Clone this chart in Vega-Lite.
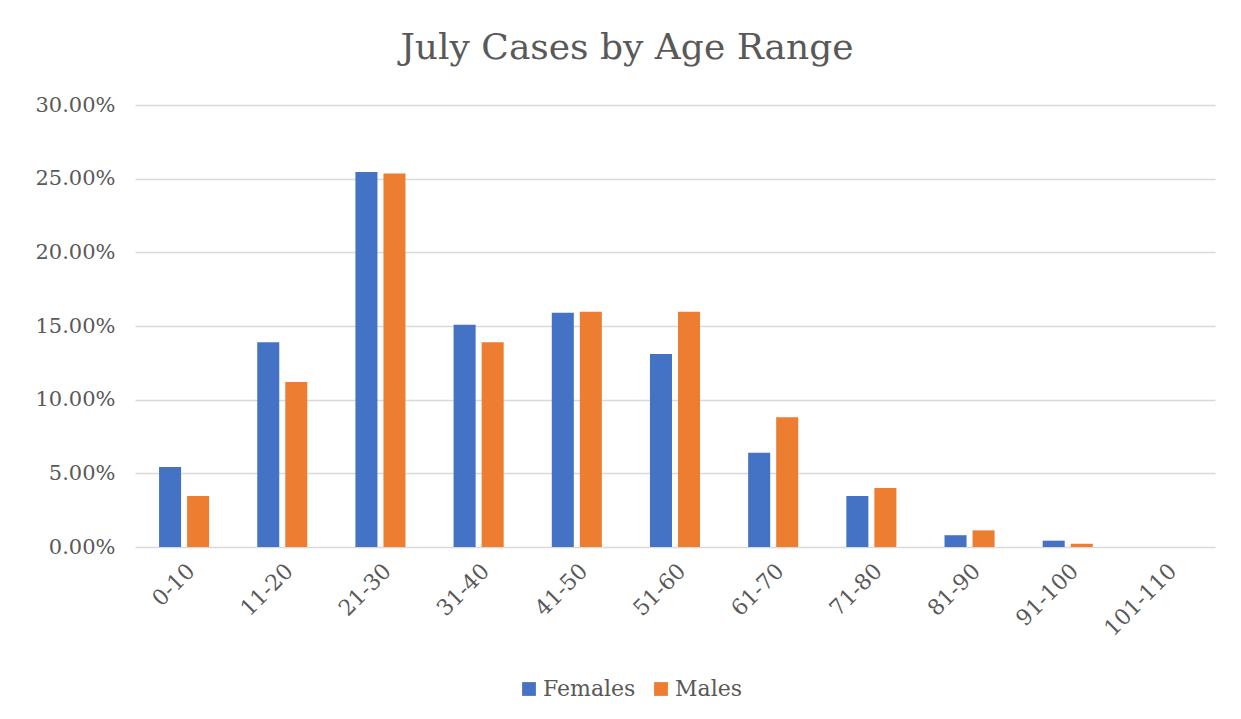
{
  "$schema": "https://vega.github.io/schema/vega-lite/v6.json",
  "width": 1080,
  "height": 442,
  "autosize": {"type": "none"},
  "padding": {"left": 135, "top": 105, "right": 26, "bottom": 172},
  "background": "white",
  "title": {
    "text": "July Cases by Age Range",
    "font": "DejaVu Serif",
    "fontSize": 36,
    "fontWeight": "normal",
    "color": "#595959",
    "anchor": "middle",
    "dx": -48,
    "offset": 27
  },
  "data": {
    "values": [
      {"age": "0-10", "sex": "Females", "pct": 0.0543},
      {"age": "0-10", "sex": "Males", "pct": 0.0346},
      {"age": "11-20", "sex": "Females", "pct": 0.139},
      {"age": "11-20", "sex": "Males", "pct": 0.112},
      {"age": "21-30", "sex": "Females", "pct": 0.2546},
      {"age": "21-30", "sex": "Males", "pct": 0.2535},
      {"age": "31-40", "sex": "Females", "pct": 0.1508},
      {"age": "31-40", "sex": "Males", "pct": 0.139},
      {"age": "41-50", "sex": "Females", "pct": 0.159},
      {"age": "41-50", "sex": "Males", "pct": 0.1597},
      {"age": "51-60", "sex": "Females", "pct": 0.131},
      {"age": "51-60", "sex": "Males", "pct": 0.1597},
      {"age": "61-70", "sex": "Females", "pct": 0.064},
      {"age": "61-70", "sex": "Males", "pct": 0.088},
      {"age": "71-80", "sex": "Females", "pct": 0.0346},
      {"age": "71-80", "sex": "Males", "pct": 0.04},
      {"age": "81-90", "sex": "Females", "pct": 0.008},
      {"age": "81-90", "sex": "Males", "pct": 0.0113},
      {"age": "91-100", "sex": "Females", "pct": 0.0043},
      {"age": "91-100", "sex": "Males", "pct": 0.0022},
      {"age": "101-110", "sex": "Females", "pct": 0},
      {"age": "101-110", "sex": "Males", "pct": 0}
    ]
  },
  "mark": {"type": "bar"},
  "encoding": {
    "x": {
      "field": "age",
      "type": "nominal",
      "sort": null,
      "scale": {"paddingInner": 0.49, "paddingOuter": 0.245},
      "axis": {
        "title": null,
        "labelAngle": -45,
        "labelFont": "DejaVu Serif",
        "labelFontSize": 22,
        "labelColor": "#595959",
        "ticks": false,
        "domain": false,
        "labelPadding": 13
      }
    },
    "xOffset": {
      "field": "sex",
      "type": "nominal",
      "scale": {"paddingInner": 0.214, "paddingOuter": 0}
    },
    "y": {
      "field": "pct",
      "type": "quantitative",
      "scale": {"domain": [0, 0.3], "nice": false},
      "axis": {
        "title": null,
        "format": ".2%",
        "values": [0, 0.05, 0.1, 0.15, 0.2, 0.25, 0.3],
        "labelFont": "DejaVu Serif",
        "labelFontSize": 21,
        "labelColor": "#595959",
        "ticks": false,
        "domain": false,
        "gridColor": "#d9d9d9",
        "gridWidth": 1.5,
        "labelPadding": 20
      }
    },
    "color": {
      "field": "sex",
      "type": "nominal",
      "scale": {"domain": ["Females", "Males"], "range": ["#4472C4", "#ED7D31"]},
      "legend": {
        "title": null,
        "orient": "none",
        "direction": "horizontal",
        "legendX": 383,
        "legendY": 573,
        "symbolType": "square",
        "symbolSize": 190,
        "symbolStrokeWidth": 0,
        "labelFont": "DejaVu Serif",
        "labelFontSize": 22,
        "labelColor": "#595959",
        "labelOffset": 3,
        "columnPadding": 14
      }
    }
  },
  "config": {
    "view": {"stroke": null}
  }
}
